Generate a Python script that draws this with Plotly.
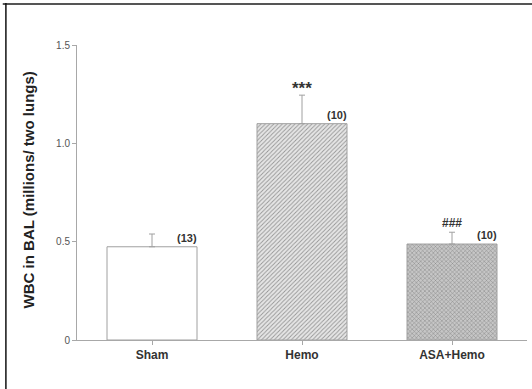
import plotly.graph_objects as go

# Group means and SEM of white blood cells in BAL fluid
groups = ["Sham", "Hemo", "ASA+Hemo"]
wbc_mean = [0.474, 1.10, 0.488]
wbc_sem = [0.065, 0.145, 0.06]
n_labels = ["(13)", "(10)", "(10)"]
sig_labels = ["", "***", "###"]

fills = ["white", "#e6e6e6", "#c6c6c6"]
pattern_shapes = ["", "/", "x"]
pattern_fg = ["white", "#c0c0c0", "#a4a4a4"]

fig = go.Figure()
fig.add_trace(go.Bar(
    x=groups,
    y=wbc_mean,
    width=0.6,
    marker=dict(
        color=fills,
        line=dict(color="#a0a0a0", width=1),
        pattern=dict(shape=pattern_shapes, fgcolor=pattern_fg,
                     bgcolor=fills, size=3, solidity=0.3),
    ),
    error_y=dict(type="data", array=wbc_sem, arrayminus=[0] * len(wbc_sem),
                 symmetric=False, color="#a0a0a0", thickness=1, width=3),
    showlegend=False,
))

# Group sizes beside each bar top, significance marks above the error bars
for i, g in enumerate(groups):
    fig.add_annotation(x=i + 0.23, y=wbc_mean[i], text=f"<b>{n_labels[i]}</b>",
                       showarrow=False, yanchor="bottom", yshift=1,
                       font=dict(family="Liberation Sans, Arial", size=11, color="#333"))
    if sig_labels[i]:
        size = 17 if sig_labels[i].startswith("*") else 12
        fig.add_annotation(x=i, y=wbc_mean[i] + wbc_sem[i], text=f"<b>{sig_labels[i]}</b>",
                           showarrow=False, yanchor="bottom",
                           yshift=-5 if size == 17 else 0,
                           font=dict(family="Liberation Sans, Arial", size=size, color="#333"))

# Y-axis title, placed beside the axis
fig.add_annotation(xref="paper", yref="paper", x=-0.107, y=0.51,
                   text="<b>WBC in BAL (millions/ two lungs)</b>", textangle=-90,
                   showarrow=False, xanchor="center", yanchor="middle",
                   font=dict(family="Liberation Sans, Arial", size=15, color="#222"))

# Figure frame along the top and left edges
fig.add_shape(type="line", xref="paper", yref="paper", x0=-0.165, x1=1.02,
              y0=1.139, y1=1.139, line=dict(color="#555", width=2))
fig.add_shape(type="line", xref="paper", yref="paper", x0=-0.158, x1=-0.158,
              y0=1.142, y1=-0.17, line=dict(color="#111", width=1.5))

fig.update_layout(
    width=532, height=389,
    margin=dict(l=77, r=5, t=45, b=49),
    plot_bgcolor="white", paper_bgcolor="white",
    font=dict(family="Liberation Sans, Arial", color="#333"),
    xaxis=dict(
        range=[-0.5, 2.5], showline=True, linecolor="#a8a8a8", linewidth=1,
        ticks="outside", ticklen=4, tickcolor="#a8a8a8", showgrid=False,
        tickfont=dict(size=12, color="#333", family="Liberation Sans, Arial"),
        tickvals=list(range(len(groups))),
        ticktext=[f"<b>{g}</b>" for g in groups],
        zeroline=False,
    ),
    yaxis=dict(
        range=[0, 1.5], showline=True, linecolor="#a8a8a8", linewidth=1,
        ticks="outside", ticklen=4, tickcolor="#a8a8a8", showgrid=False,
        tickvals=[0, 0.5, 1.0, 1.5], ticktext=["0", "0.5", "1.0", "1.5"],
        tickfont=dict(size=10, color="#555"),
        zeroline=False,
    ),
)

fig.write_html("out.html")
